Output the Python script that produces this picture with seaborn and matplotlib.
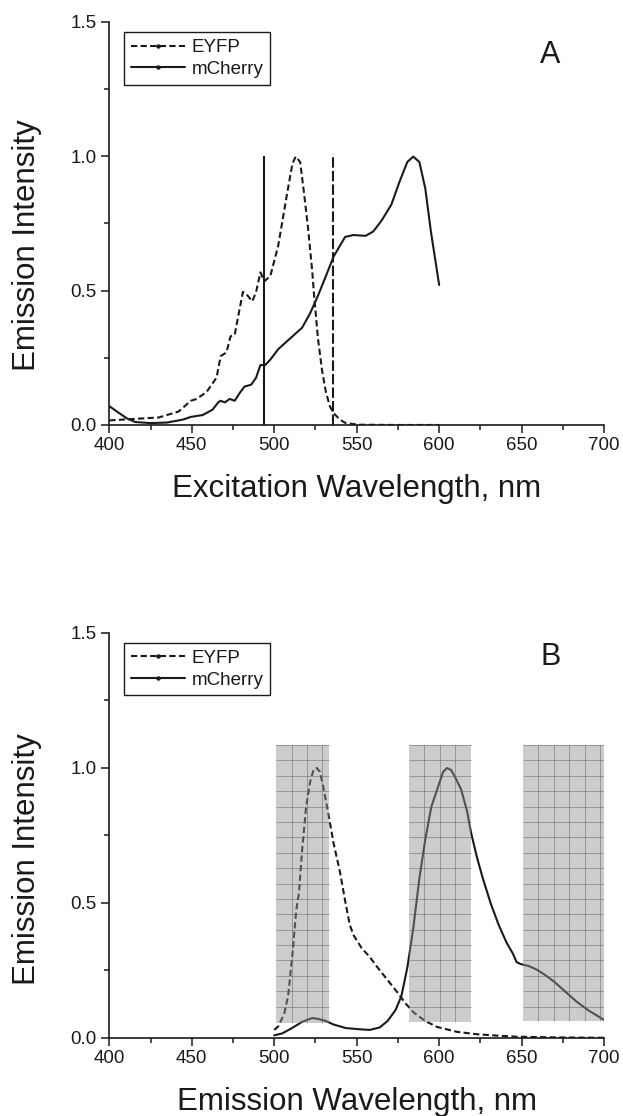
import numpy as np
import pandas as pd
import matplotlib
matplotlib.use('Agg')
import matplotlib.pyplot as plt
from matplotlib.lines import Line2D
from matplotlib.patches import Rectangle
import seaborn as sns

# Pannello A: spettri di eccitazione
exc_eyfp_x = [400, 430, 442, 449.4, 453, 459, 465, 467.5, 471, 473.5, 476, 478, 481, 483,
              486.7, 489, 491.6, 494, 497.6, 502.4, 507.2, 511, 513, 515.7, 518, 520.5,
              523, 524, 526.5, 529, 531.3, 533.7, 536, 539.8, 543, 550.6, 575, 600]
exc_eyfp_y = [0.017, 0.028, 0.05, 0.09, 0.097, 0.123, 0.176, 0.256, 0.27, 0.33, 0.335, 0.40,
              0.495, 0.488, 0.46, 0.495, 0.568, 0.535, 0.554, 0.667, 0.84, 0.972, 0.999,
              0.979, 0.866, 0.733, 0.574, 0.495, 0.322, 0.203, 0.123, 0.07, 0.044, 0.02,
              0.008, 0.001, 0.0, 0.0]

exc_mch_x = [400, 406, 410.8, 415.7, 425, 435, 444.6, 449.4, 456.6, 462.6, 466, 467.5, 470,
             473, 476, 479.5, 482, 486, 489, 491.6, 494.5, 497.6, 502.4, 509.6, 516.9,
             521.7, 526.5, 531.3, 536, 539.8, 543, 548, 555.4, 560, 565, 571, 576, 580.7,
             584.3, 588, 591.6, 595, 600]
exc_mch_y = [0.07, 0.044, 0.024, 0.011, 0.007, 0.009, 0.02, 0.03, 0.037, 0.057, 0.084, 0.09,
             0.084, 0.097, 0.09, 0.123, 0.143, 0.15, 0.176, 0.223, 0.223, 0.243, 0.282,
             0.322, 0.362, 0.415, 0.481, 0.554, 0.627, 0.667, 0.70, 0.707, 0.704, 0.72,
             0.76, 0.82, 0.906, 0.979, 0.999, 0.979, 0.88, 0.72, 0.521]

# linee laser (lunghezza d'onda, altezza)
laser_solid = (494, 1.0)
laser_dash = (535.4, 1.01)

# Pannello B: spettri di emissione
em_eyfp_x = [500, 502.4, 506, 508.4, 511.3, 513.3, 515, 516.9, 519.3, 521.7, 524, 525.8,
             527.7, 530, 532.5, 536, 539.8, 542.9, 545.8, 548.2, 553, 557.8, 562.7, 568.7,
             574.7, 579.5, 584.3, 591.6, 598.8, 610.8, 622.9, 635, 647, 671, 700]
em_eyfp_y = [0.029, 0.042, 0.088, 0.154, 0.326, 0.471, 0.537, 0.695, 0.854, 0.946, 0.996,
             0.999, 0.985, 0.92, 0.84, 0.72, 0.616, 0.51, 0.418, 0.379, 0.332, 0.30, 0.26,
             0.214, 0.168, 0.128, 0.095, 0.062, 0.04, 0.022, 0.013, 0.008, 0.004, 0.0013, 0.0]

em_mch_x = [500, 504.8, 510.8, 516.9, 523, 526.5, 531.3, 536, 543.4, 550.6, 557.8, 563.9,
            568.7, 573.5, 577.1, 580.7, 584.3, 588, 591.6, 595.2, 598.8, 602.4, 604.8,
            607.2, 609.6, 613.3, 616.9, 619.3, 622.9, 626.5, 631.3, 636.1, 640.9, 644.6,
            647, 649.4, 654.2, 659, 663.9, 669.9, 675.9, 683.1, 690.4, 700]
em_mch_y = [0.009, 0.016, 0.036, 0.059, 0.073, 0.07, 0.062, 0.049, 0.036, 0.032, 0.029,
            0.038, 0.062, 0.102, 0.154, 0.26, 0.405, 0.59, 0.735, 0.854, 0.92, 0.985,
            0.999, 0.992, 0.966, 0.92, 0.84, 0.761, 0.669, 0.59, 0.497, 0.418, 0.352,
            0.313, 0.28, 0.273, 0.266, 0.253, 0.234, 0.207, 0.174, 0.135, 0.102, 0.066]

# finestre dei filtri (x0, x1, y0, y1)
filter_x0 = [501.2, 581.7, 650.8]
filter_x1 = [533.2, 619.3, 700.3]
filter_y0 = [0.055, 0.059, 0.062]
filter_y1 = [1.084, 1.084, 1.084]

labels = ['EYFP', 'mCherry']

sns.set_theme(style='ticks')
plt.rcParams['font.family'] = ['Liberation Sans', 'DejaVu Sans']
plt.rcParams.update({'text.color': 'k', 'axes.labelcolor': 'k',
                     'xtick.color': 'k', 'ytick.color': 'k', 'axes.edgecolor': 'k'})

fig = plt.figure(figsize=(6.23, 11.16), dpi=100)
ax_a = fig.add_axes([0.1755, 0.6192, 0.7941, 0.3611])
ax_b = fig.add_axes([0.1755, 0.0701, 0.7941, 0.3629])

dash_short = (0, (3, 1.6))
lw = 1.5

sns.lineplot(x=exc_eyfp_x, y=exc_eyfp_y, ax=ax_a, color='k', lw=lw, linestyle=dash_short,
             sort=False, estimator=None)
sns.lineplot(x=exc_mch_x, y=exc_mch_y, ax=ax_a, color='k', lw=lw, sort=False, estimator=None)
ax_a.vlines(laser_solid[0], 0, laser_solid[1], color='k', lw=1.5)
ax_a.vlines(laser_dash[0], 0, laser_dash[1], color='k', lw=1.5, linestyle=(0, (5, 1.5)))

sns.lineplot(x=em_eyfp_x, y=em_eyfp_y, ax=ax_b, color='k', lw=lw, linestyle=dash_short,
             sort=False, estimator=None)
sns.lineplot(x=em_mch_x, y=em_mch_y, ax=ax_b, color='k', lw=lw, sort=False, estimator=None)

# rettangoli grigi semitrasparenti con griglia (passo ~15 px)
dx = 15.4 * 300 / 494.5
dy = 15.4 * 1.5 / 405.5
for x0, x1, y0, y1 in zip(filter_x0, filter_x1, filter_y0, filter_y1):
    ax_b.add_patch(Rectangle((x0, y0), x1 - x0, y1 - y0,
                             facecolor=(0.571, 0.571, 0.571, 0.467), lw=0, zorder=5))
    gx = np.arange(x0 + dx, x1 - 1, dx)
    gy = np.arange(y1, y0 + 0.01, -dy)
    ax_b.vlines(gx, y0, y1, color=(0.35, 0.35, 0.35), alpha=0.45, lw=0.75, zorder=6)
    ax_b.hlines(gy, x0, x1, color=(0.35, 0.35, 0.35), alpha=0.45, lw=0.75, zorder=6)

handles = [Line2D([], [], color='k', lw=lw, linestyle=dash_short, marker='o', ms=2.2),
           Line2D([], [], color='k', lw=lw, marker='o', ms=2.2)]

for ax, xlabel, letter, ly, ylab_y in [(ax_a, 'Excitation Wavelength, nm', 'A', 1.377, 0.447),
                                       (ax_b, 'Emission Wavelength, nm', 'B', 1.41, 0.442)]:
    ax.set_xlim(400, 700)
    ax.set_ylim(0, 1.5)
    ax.set_xticks([400, 450, 500, 550, 600, 650, 700])
    ax.set_xticks(np.arange(425, 700, 50), minor=True)
    ax.set_yticks([0.0, 0.5, 1.0, 1.5])
    ax.set_yticks([0.25, 0.75, 1.25], minor=True)
    ax.set_yticklabels(['0.0', '0.5', '1.0', '1.5'])
    ax.tick_params(which='major', length=6, width=1.1, labelsize=13.5, pad=3)
    ax.tick_params(which='minor', length=3.5, width=1.1)
    for side in ['left', 'bottom']:
        ax.spines[side].set_linewidth(1.2)
    sns.despine(ax=ax)
    ax.set_xlabel(xlabel, fontsize=22.5, labelpad=14)
    ax.set_ylabel('Emission Intensity', fontsize=22.5)
    ax.yaxis.set_label_coords(-0.137, ylab_y)
    ax.text(667.5, ly, letter, fontsize=22, ha='center', va='center')
    leg = ax.legend(handles, labels, loc='upper left', bbox_to_anchor=(0.03, 0.974),
                    borderaxespad=0, fontsize=13.5, handlelength=2.9, handletextpad=0.35,
                    borderpad=0.35, labelspacing=0.25, fancybox=False, framealpha=1)
    leg.get_frame().set_edgecolor('k')
    leg.get_frame().set_linewidth(1.0)

fig.savefig('out.png', dpi=100)
